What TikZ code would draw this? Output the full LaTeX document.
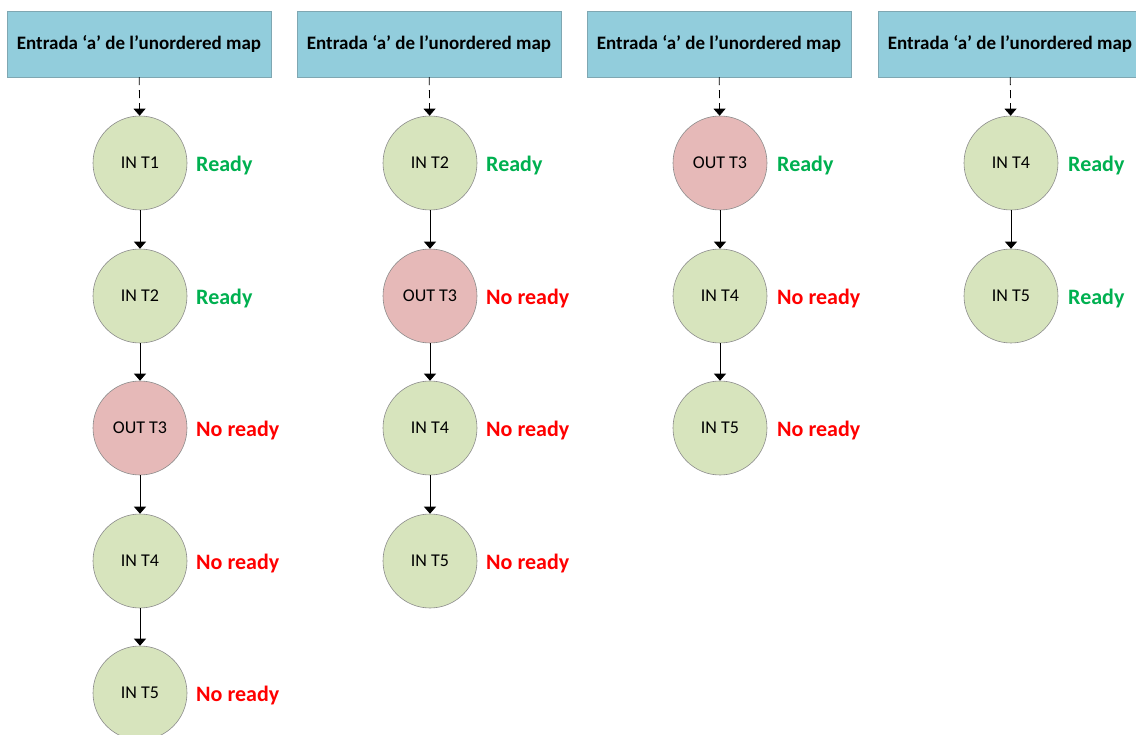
\documentclass[tikz,border=0pt]{standalone}
\usepackage{fontspec}
\setmainfont{Carlito}
\usetikzlibrary{arrows.meta}
\definecolor{hdrfill}{HTML}{92CDDC}
\definecolor{hdrline}{HTML}{7FA7B2}
\definecolor{infill}{HTML}{D7E4BD}
\definecolor{outfill}{HTML}{E6B9B8}
\definecolor{circline}{HTML}{8C8C8C}
\definecolor{okgreen}{HTML}{00B050}
\definecolor{nored}{HTML}{FF0000}
\tikzset{
  hdr/.style={draw=hdrline, fill=hdrfill, minimum width=264pt, minimum height=66pt,
    inner sep=0pt, font=\fontsize{19}{22}\selectfont\bfseries},
  task/.style={circle, draw=circline, line width=0.6pt, minimum size=94pt, inner sep=0pt,
    font=\fontsize{18}{21}\selectfont},
  intask/.style={task, fill=infill},
  outtask/.style={task, fill=outfill},
  state/.style={anchor=west, inner sep=0pt, yshift=-1.5pt, font=\fontsize{22}{26}\selectfont\bfseries},
  ready/.style={state, text=okgreen},
  notready/.style={state, text=nored},
  link/.style={-{Triangle[width=12pt,length=7pt]}, line width=0.8pt},
  dlink/.style={link, dash pattern=on 8pt off 5pt},
}
\begin{document}
\begin{tikzpicture}[x=1pt, y=-1pt]
\useasboundingbox (0,0) rectangle (1136,735);

% column 1
\node[hdr] (h1) at (139,44) {Entrada ‘a’ de l’unordered map};
\node[intask] (a1) at (140,163) {IN T1};
\node[intask] (a2) at (140,296) {IN T2};
\node[outtask] (a3) at (140,428) {OUT T3};
\node[intask] (a4) at (140,561) {IN T4};
\node[intask] (a5) at (140,693) {IN T5};
\node[ready] (sa1) at (196,164) {Ready};
\node[ready] (sa2) at (196,297) {Ready};
\node[notready] (sa3) at (196,429) {No ready};
\node[notready] (sa4) at (196,562) {No ready};
\node[notready] (sa5) at (196,694) {No ready};
\draw[dlink] (h1) -- (a1);
\draw[link] (a1) -- (a2);
\draw[link] (a2) -- (a3);
\draw[link] (a3) -- (a4);
\draw[link] (a4) -- (a5);

% column 2
\node[hdr] (h2) at (429,44) {Entrada ‘a’ de l’unordered map};
\node[intask] (b2) at (430,163) {IN T2};
\node[outtask] (b3) at (430,296) {OUT T3};
\node[intask] (b4) at (430,428) {IN T4};
\node[intask] (b5) at (430,561) {IN T5};
\node[ready] (sb2) at (486,164) {Ready};
\node[notready] (sb3) at (486,297) {No ready};
\node[notready] (sb4) at (486,429) {No ready};
\node[notready] (sb5) at (486,562) {No ready};
\draw[dlink] (h2) -- (b2);
\draw[link] (b2) -- (b3);
\draw[link] (b3) -- (b4);
\draw[link] (b4) -- (b5);

% column 3
\node[hdr] (h3) at (719,44) {Entrada ‘a’ de l’unordered map};
\node[outtask] (c3) at (720,163) {OUT T3};
\node[intask] (c4) at (720,296) {IN T4};
\node[intask] (c5) at (720,428) {IN T5};
\node[ready] (sc3) at (777,164) {Ready};
\node[notready] (sc4) at (777,297) {No ready};
\node[notready] (sc5) at (777,429) {No ready};
\draw[dlink] (h3) -- (c3);
\draw[link] (c3) -- (c4);
\draw[link] (c4) -- (c5);

% column 4
\node[hdr] (h4) at (1010,44) {Entrada ‘a’ de l’unordered map};
\node[intask] (d4) at (1011,163) {IN T4};
\node[intask] (d5) at (1011,296) {IN T5};
\node[ready] (sd4) at (1068,164) {Ready};
\node[ready] (sd5) at (1068,297) {Ready};
\draw[dlink] (h4) -- (d4);
\draw[link] (d4) -- (d5);
\end{tikzpicture}
\end{document}
